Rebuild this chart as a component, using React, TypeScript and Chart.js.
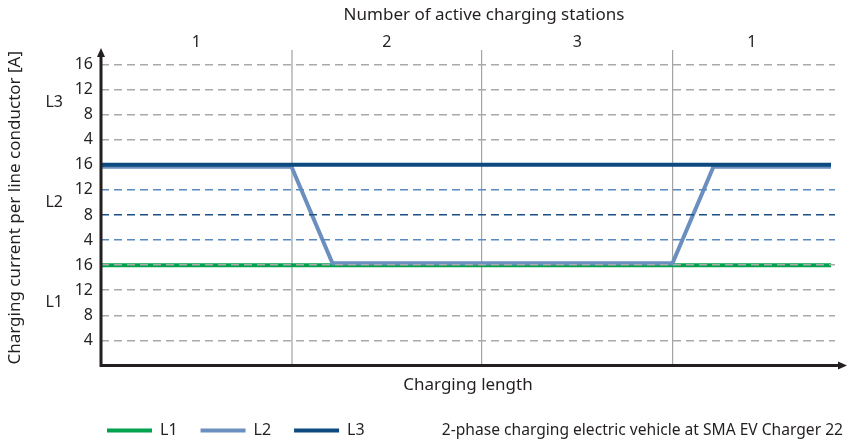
import React, { useEffect, useRef } from 'react';
import { Chart, registerables } from 'chart.js';

Chart.register(...registerables);

const FONT = 'Noto Sans';
const TEXT_COLOR = '#231f20';

// ---- data ----
const PHASES = ['L1', 'L2', 'L3'];
const PHASE_COLORS = ['#00a24e', '#6b8fbe', '#0c4a80'];
const BAND_SPAN = 16; // each phase band covers 0..16 A
const CURRENT_TICKS = [4, 8, 12, 16];
const BAND_LABEL_AT = 10;
// charging length, in units of one "station period"
const TIME = [0, 1, 1.215, 3, 3.215, 3.832];
const L1_CURRENT = [16, 16, 16, 16, 16, 16];
const L2_CURRENT = [16, 16, 0, 0, 16, 16];
const L3_CURRENT = [0, 0, 0, 0, 0, 0];
const PERIOD_BOUNDS = [0, 1, 2, 3, 3.832];
const ACTIVE_STATIONS = ['1', '2', '3', '1'];

const X_MAX = 3.853;
const Y_MAX = 50.3;
const L2_SEPARATION = 0.3; // small visual offset so L2 stays visible beside L1/L3

const TOP_TITLE = 'Number of active charging stations';
const X_TITLE = 'Charging length';
const Y_TITLE = 'Charging current per line conductor [A]';
const CAPTION = '2-phase charging electric vehicle at SMA EV Charger 22';

const CURRENTS = [L1_CURRENT, L2_CURRENT, L3_CURRENT];

const Y_TICKS: number[] = [];
const Y_TICK_LABELS: string[] = [];
PHASES.forEach((_, b) => {
  CURRENT_TICKS.forEach((t) => {
    Y_TICKS.push(b * BAND_SPAN + t);
    Y_TICK_LABELS.push(String(t));
  });
});
const BAND_CENTERS = PHASES.map((_, b) => b * BAND_SPAN + BAND_LABEL_AT);
const PERIOD_CENTERS = ACTIVE_STATIONS.map((_, i) => (PERIOD_BOUNDS[i] + PERIOD_BOUNDS[i + 1]) / 2);
const PERIOD_LINES = PERIOD_BOUNDS.slice(1, -1);

Chart.defaults.font.family = FONT;
Chart.defaults.font.size = 16;
Chart.defaults.color = TEXT_COLOR;

function gridColor(value: number): string {
  const band = Math.floor((value - 1) / BAND_SPAN);
  const t = value - band * BAND_SPAN;
  if (band === 1) {
    if (t === 16) return 'rgba(0,0,0,0)';
    if (t === 8) return '#1b4f86';
    return '#5a8bc0';
  }
  return '#a9a9a9';
}

const decorPlugin = {
  id: 'decor',
  afterDraw(chart: any) {
    const { ctx, chartArea } = chart;
    const { left, right, top, bottom } = chartArea;
    ctx.save();
    // axes with arrows
    ctx.strokeStyle = '#231f20';
    ctx.fillStyle = '#231f20';
    ctx.lineWidth = 3;
    ctx.beginPath();
    ctx.moveTo(left, bottom + 1.5);
    ctx.lineTo(left, top + 4);
    ctx.moveTo(left - 1.5, bottom);
    ctx.lineTo(right + 4, bottom);
    ctx.stroke();
    ctx.beginPath();
    ctx.moveTo(left, top - 2);
    ctx.lineTo(left - 4, top + 7);
    ctx.lineTo(left + 4, top + 7);
    ctx.closePath();
    ctx.fill();
    ctx.beginPath();
    ctx.moveTo(right + 12, bottom);
    ctx.lineTo(right + 3, bottom - 4);
    ctx.lineTo(right + 3, bottom + 4);
    ctx.closePath();
    ctx.fill();

    // top title
    ctx.font = `17px "${FONT}"`;
    ctx.fillStyle = TEXT_COLOR;
    ctx.textBaseline = 'middle';
    ctx.textAlign = 'center';
    ctx.fillText(TOP_TITLE, 484, 15);

    // legend
    ctx.font = `16px "${FONT}"`;
    const ly = 430.5;
    let x = 107;
    ctx.textAlign = 'left';
    chart.data.datasets.forEach((ds: any) => {
      ctx.fillStyle = ds.borderColor;
      ctx.fillRect(x, ly - 2, 45, 4);
      ctx.fillStyle = TEXT_COLOR;
      ctx.fillText(ds.label, x + 53, ly);
      x += 45 + 8 + ctx.measureText(ds.label).width + 23;
    });
    ctx.font = `15.6px "${FONT}"`;
    ctx.textAlign = 'right';
    ctx.fillText(CAPTION, 843, ly);
    ctx.restore();
  },
};

export default function App() {
  const ref = useRef<HTMLCanvasElement | null>(null);
  useEffect(() => {
    if (!ref.current) return;
    const datasets = PHASES.map((name, b) => ({
      label: name,
      data: TIME.map((t, i) => {
        const c = CURRENTS[b][i];
        let nudge = 0;
        if (b === 1) nudge = c === 0 ? L2_SEPARATION : c === BAND_SPAN ? -L2_SEPARATION : 0;
        return { x: t, y: b * BAND_SPAN + c + nudge };
      }),
      borderColor: PHASE_COLORS[b],
      backgroundColor: PHASE_COLORS[b],
      borderWidth: 4,
      pointRadius: 0,
      tension: 0,
      borderJoinStyle: 'miter',
      borderCapStyle: 'butt',
      fill: false,
      order: 2 - b,
      xAxisID: 'x',
      yAxisID: 'y',
    }));
    const chart = new Chart(ref.current, {
      type: 'line',
      data: { datasets } as any,
      plugins: [decorPlugin],
      options: {
        animation: false,
        responsive: false,
        maintainAspectRatio: false,
        devicePixelRatio: 1,
        layout: { padding: { top: 0, left: 0, right: 14, bottom: 45.5 } },
        plugins: { legend: { display: false }, tooltip: { enabled: false }, title: { display: false } },
        scales: {
          x: {
            type: 'linear',
            position: 'bottom',
            min: 0,
            max: X_MAX,
            afterBuildTicks: (s: any) => {
              s.ticks = PERIOD_LINES.map((v) => ({ value: v }));
            },
            afterFit: (s: any) => {
              s.height = 30;
            },
            ticks: { display: false },
            grid: {
              color: (c: any) => (c.index === 0 ? '#c6c6c6' : '#a3a3a3'),
              lineWidth: (c: any) => (c.index === 0 ? 2 : 1.2),
              drawTicks: false,
              tickLength: 0,
            },
            border: { display: false },
            title: { display: true, text: X_TITLE, color: TEXT_COLOR, font: { size: 17 }, padding: { top: 9, bottom: 0 } },
          },
          xt: {
            type: 'linear',
            position: 'top',
            min: 0,
            max: X_MAX,
            afterBuildTicks: (s: any) => {
              s.ticks = PERIOD_CENTERS.map((v) => ({ value: v }));
            },
            afterFit: (s: any) => {
              s.height = 50;
            },
            ticks: {
              callback: (_v: any, i: number) => ACTIVE_STATIONS[i],
              font: { size: 16, lineHeight: 1 },
              color: TEXT_COLOR,
              padding: 0,
              autoSkip: false,
              maxRotation: 0,
            },
            grid: { display: false, drawTicks: false, tickLength: 0 },
            border: { display: false },
          },
          y: {
            type: 'linear',
            position: 'left',
            min: 0,
            max: Y_MAX,
            afterBuildTicks: (s: any) => {
              s.ticks = Y_TICKS.map((v) => ({ value: v }));
            },
            afterFit: (s: any) => {
              s.width = 29;
            },
            ticks: {
              callback: (_v: any, i: number) => Y_TICK_LABELS[i],
              padding: 8,
              autoSkip: false,
              color: TEXT_COLOR,
              font: { size: 16 },
            },
            grid: {
              color: (c: any) => gridColor(c.tick ? c.tick.value : 0),
              lineWidth: 1.5,
              drawTicks: false,
              tickLength: 0,
              z: 1,
            },
            border: { display: false, dash: [8, 5] },
          },
          yb: {
            type: 'linear',
            position: 'left',
            weight: 1,
            min: 0,
            max: Y_MAX,
            afterBuildTicks: (s: any) => {
              s.ticks = BAND_CENTERS.map((v) => ({ value: v }));
            },
            afterFit: (s: any) => {
              s.width = 72;
            },
            ticks: {
              callback: (_v: any, i: number) => PHASES[i],
              padding: 9,
              autoSkip: false,
              color: TEXT_COLOR,
              font: { size: 16 },
            },
            grid: { display: false, drawTicks: false, tickLength: 0 },
            border: { display: false },
            title: { display: true, text: Y_TITLE, color: TEXT_COLOR, font: { size: 17 }, padding: { top: 5, bottom: 0 } },
          },
        },
      } as any,
    });
    return () => chart.destroy();
  }, []);
  return (
    <div style={{ position: 'absolute', left: 0, top: 0, width: 849, height: 441 }}>
      <canvas ref={ref} width={849} height={441} style={{ display: 'block' }} />
    </div>
  );
}
